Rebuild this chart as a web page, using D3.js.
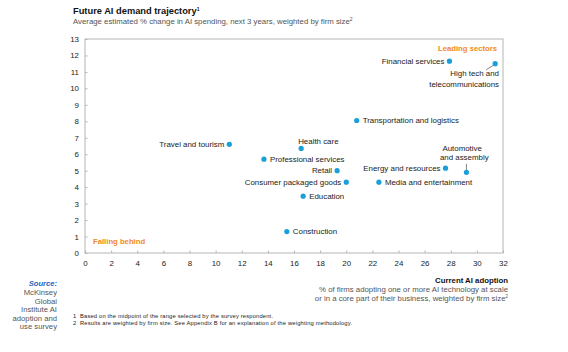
<!DOCTYPE html>
<html>
<head>
<meta charset="utf-8">
<script src="https://cdn.jsdelivr.net/npm/d3@7"></script>
<style>
  body { margin: 0; background: #fff; }
  svg { font-family: "Liberation Sans", Arial, sans-serif; }
</style>
</head>
<body>
<div id="chart"></div>
<script>
// sectors, current adoption (x) and future demand (y)
const sectors = ['Financial services', 'High tech and telecommunications', 'Transportation and logistics',
  'Travel and tourism', 'Health care', 'Professional services', 'Retail', 'Consumer packaged goods',
  'Energy and resources', 'Automotive and assembly', 'Media and entertainment', 'Education', 'Construction']
const adoption = [27.9, 31.4, 20.8, 11.05, 16.55, 13.7, 19.3, 20.0, 27.6, 29.2, 22.5, 16.7, 15.45]
const demand = [11.65, 11.5, 8.05, 6.6, 6.35, 5.7, 5.0, 4.3, 5.15, 4.9, 4.3, 3.45, 1.3]
const xTicks = d3.range(0, 33, 2)
const yTicks = d3.range(0, 14, 1)

// label placement per sector: [dx, dy, anchor]
const labelPos = {
  'Financial services': [-5, 2.8, 'end'],
  'Transportation and logistics': [6, 2.8, 'start'],
  'Travel and tourism': [-5, 2.8, 'end'],
  'Health care': [-3, -4.5, 'start'],
  'Professional services': [6, 2.8, 'start'],
  'Retail': [-5, 2.8, 'end'],
  'Consumer packaged goods': [-5, 2.8, 'end'],
  'Energy and resources': [-5, 2.8, 'end'],
  'Media and entertainment': [6, 2.8, 'start'],
  'Education': [6, 2.8, 'start'],
  'Construction': [6, 2.8, 'start']
}

const W = 568, H = 352
const margin = { top: 39, left: 85, right: 65, bottom: 99 }
const gW = W - margin.left - margin.right,
  gH = H - margin.top - margin.bottom
const blue = '#1a9fd9', orange = '#f08a24', grey = '#555', line = '#b5b5b5'
const fs = 7.9

const svg = d3.select('#chart').append('svg').attr('width', W).attr('height', H)

// titles
svg.append('text').attr('x', 73).attr('y', 14).attr('font-size', 9.3).attr('font-weight', 'bold')
  .attr('fill', '#111').text('Future AI demand trajectory')
  .append('tspan').attr('font-size', 5).attr('dy', -3.5).text('1')
svg.append('text').attr('x', 73).attr('y', 23.5).attr('font-size', 7.8).attr('fill', grey)
  .text('Average estimated % change in AI spending, next 3 years, weighted by firm size')
  .append('tspan').attr('font-size', 5).attr('dy', -3).text('2')

const x = d3.scaleLinear().domain([0, 32]).range([0, gW])
const y = d3.scaleLinear().domain([0, 13]).range([gH, 0])

const g = svg.append('g').attr('transform', `translate(${margin.left}, ${margin.top})`)

// frame
g.append('rect').attr('width', gW).attr('height', gH)
  .attr('fill', 'none').attr('stroke', line).attr('stroke-width', 1)

// axes, ticks pointing inward
const xAxis = g.append('g').attr('transform', `translate(0, ${gH})`)
  .call(d3.axisBottom(x).tickValues(xTicks).tickSize(-2.5).tickPadding(7))
const yAxis = g.append('g')
  .call(d3.axisLeft(y).tickValues(yTicks).tickSize(-2.5).tickPadding(6))
;[xAxis, yAxis].forEach(a => {
  a.select('.domain').remove()
  a.selectAll('line').attr('stroke', line)
  a.selectAll('text').attr('font-size', 7.9).attr('fill', '#222').attr('font-family', null)
})

// quadrant notes
g.append('text').attr('x', gW - 6).attr('y', 12).attr('text-anchor', 'end')
  .attr('font-size', 7.7).attr('font-weight', 'bold').attr('fill', orange).text('Leading sectors')
g.append('text').attr('x', 8).attr('y', gH - 9).attr('font-size', 7.7)
  .attr('font-weight', 'bold').attr('fill', orange).text('Falling behind')

const pts = sectors.map((s, i) => ({ name: s, x: adoption[i], y: demand[i] }))

// labels
g.selectAll('text.lbl').data(pts.filter(d => labelPos[d.name])).enter().append('text')
  .classed('lbl', true)
  .attr('x', d => x(d.x) + labelPos[d.name][0])
  .attr('y', d => y(d.y) + labelPos[d.name][1])
  .attr('text-anchor', d => labelPos[d.name][2])
  .attr('font-size', fs).attr('fill', '#222').text(d => d.name)

// high tech: two-line label with leader
const ht = pts[1]
g.append('line').attr('x1', x(ht.x) - 1.5).attr('y1', y(ht.y) + 1.5)
  .attr('x2', x(ht.x) - 9).attr('y2', y(ht.y) + 6).attr('stroke', '#333').attr('stroke-width', 0.6)
g.append('text').attr('x', gW - 4).attr('y', y(ht.y) + 12.5).attr('text-anchor', 'end')
  .attr('font-size', fs).attr('fill', '#222')
  .selectAll('tspan').data(['High tech and', 'telecommunications']).enter().append('tspan')
  .attr('x', gW - 4).attr('dy', (d, i) => i ? 10.5 : 0).text(d => d)

// automotive: label above with vertical leader
const au = pts[9]
g.append('line').attr('x1', x(au.x)).attr('y1', y(au.y) - 2)
  .attr('x2', x(au.x)).attr('y2', y(au.y) - 8.5).attr('stroke', '#333').attr('stroke-width', 0.6)
g.append('text').attr('x', x(au.x) - 26).attr('y', y(au.y) - 21.5).attr('text-anchor', 'start')
  .attr('font-size', fs).attr('fill', '#222')
  .selectAll('tspan').data(['Automotive', 'and assembly']).enter().append('tspan')
  .attr('x', (d, i) => x(au.x) - (i ? 26.5 : 24)).attr('dy', (d, i) => i ? 9.3 : 0).text(d => d)

// dots
g.selectAll('circle').data(pts).enter().append('circle')
  .attr('cx', d => x(d.x)).attr('cy', d => y(d.y)).attr('r', 2.6).attr('fill', blue)

// x axis title
svg.append('text').attr('x', 508).attr('y', 283).attr('text-anchor', 'end')
  .attr('font-size', 7.8).attr('font-weight', 'bold').attr('fill', '#111').text('Current AI adoption')
svg.append('text').attr('x', 508).attr('y', 291.5).attr('text-anchor', 'end')
  .attr('font-size', 7.8).attr('fill', grey)
  .text('% of firms adopting one or more AI technology at scale')
svg.append('text').attr('x', 508).attr('y', 300.5).attr('text-anchor', 'end')
  .attr('font-size', 7.8).attr('fill', grey)
  .text('or in a core part of their business, weighted by firm size')
  .append('tspan').attr('font-size', 4.5).attr('dy', -2.6).text('2')

// source
svg.append('text').attr('x', 57).attr('y', 286).attr('text-anchor', 'end')
  .attr('font-size', 7.6).attr('font-weight', 'bold').attr('font-style', 'italic')
  .attr('fill', '#1f5fbf').text('Source:')
svg.append('text').attr('text-anchor', 'end').attr('font-size', 7.7).attr('fill', grey)
  .selectAll('tspan').data(['McKinsey', 'Global', 'Institute AI', 'adoption and', 'use survey'])
  .enter().append('tspan').attr('x', 57).attr('y', (d, i) => 295 + i * 8.6).text(d => d)

// footnotes
const notes = ['Based on the midpoint of the range selected by the survey respondent.',
  'Results are weighted by firm size. See Appendix B for an explanation of the weighting methodology.']
const noteLen = [193, 272]
notes.forEach((n, i) => {
  svg.append('text').attr('x', 73).attr('y', 318 + i * 6.5).attr('font-size', 5.8)
    .attr('fill', '#222').text(i + 1)
  svg.append('text').attr('x', 80).attr('y', 318 + i * 6.5).attr('font-size', 5.8)
    .attr('textLength', noteLen[i]).attr('lengthAdjust', 'spacing')
    .attr('fill', '#222').text(n)
})
</script>
</body>
</html>
